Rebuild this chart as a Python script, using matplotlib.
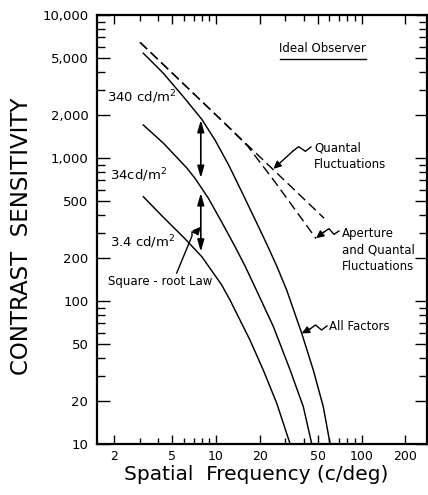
import matplotlib
matplotlib.use("Agg")
import matplotlib.pyplot as plt
from matplotlib.lines import Line2D
from matplotlib.transforms import IdentityTransform
from matplotlib.ticker import FixedLocator, FixedFormatter, NullFormatter

# contrast sensitivity vs spatial frequency (c/deg)
freq_340 = [3.16, 4.34, 5.96, 7.98, 9.84, 12.2, 15.0, 18.5, 22.3, 26.1, 30.6, 38.8, 46.6, 54.6, 60.8]
sens_340 = [5400, 3910, 2680, 1862, 1333, 894, 581, 373, 250, 176, 119, 59.4, 32.9, 18.2, 10]

freq_34 = [3.16, 4.34, 6.29, 7.17, 8.85, 10.9, 13.5, 15.8, 18.0, 24.8, 32.3, 39.8, 45.5]
sens_34 = [1700, 1270, 851, 720, 523, 358, 240, 176, 133, 66, 32.9, 18.2, 10]

freq_3_4 = [3.16, 4.23, 6.12, 7.98, 10.9, 12.5, 17.1, 21.1, 26.1, 32.3]
sens_3_4 = [536, 395, 272, 204, 130, 101, 53.3, 32.9, 19.3, 10]

# ideal observer (dashed)
freq_quantal = [3.0, 55.3]
sens_quantal = [6440, 379]
freq_aperture = [3.0, 12.0, 16.6, 25.4, 40.9, 48.7]
sens_aperture = [6440, 1670, 1200, 680, 349, 273]

# square-root law double arrows
arrow_freq = 7.85
arrow_top = [1845, 569]
arrow_bottom = [724, 221]

xticks = [2, 5, 10, 20, 50, 100, 200]
xminor = [3, 4, 6, 7, 8, 9, 30, 40, 60, 70, 80, 90]
yticks = [10, 20, 50, 100, 200, 500, 1000, 2000, 5000, 10000]
ylabels = ["10", "20", "50", "100", "200", "500", "1,000", "2,000", "5,000", "10,000"]
yminor = [30, 40, 60, 70, 80, 90, 300, 400, 600, 700, 800, 900,
          3000, 4000, 6000, 7000, 8000, 9000]

W, H = 428, 495
AX_L, AX_R, AX_T, AX_B = 96.7, 427.0, 15.0, 444.0

fig = plt.figure(figsize=(W / 100, H / 100), dpi=100)
ax = fig.add_axes([AX_L / W, 1 - AX_B / H, (AX_R - AX_L) / W, (AX_B - AX_T) / H])
ax.set_xscale("log")
ax.set_yscale("log")
ax.set_xlim(1.51, 282)
ax.set_ylim(10, 10000)

for f, s in [(freq_340, sens_340), (freq_34, sens_34), (freq_3_4, sens_3_4)]:
    ax.plot(f, s, color="black", lw=1.05, solid_joinstyle="round")
ax.plot(freq_quantal, sens_quantal, color="black", lw=1.0, dashes=(7, 3.5))
ax.plot(freq_aperture, sens_aperture, color="black", lw=1.0, dashes=(7, 3.5))

for top, bot in zip(arrow_top, arrow_bottom):
    ax.annotate("", xy=(arrow_freq, bot), xytext=(arrow_freq, top),
                arrowprops=dict(arrowstyle="<|-|>,head_length=0.7,head_width=0.2",
                                color="black", lw=1.2, shrinkA=0, shrinkB=0,
                                mutation_scale=10))

# ticks
ax.xaxis.set_major_locator(FixedLocator(xticks))
ax.xaxis.set_major_formatter(FixedFormatter([str(v) for v in xticks]))
ax.xaxis.set_minor_locator(FixedLocator(xminor))
ax.xaxis.set_minor_formatter(NullFormatter())
ax.yaxis.set_major_locator(FixedLocator(yticks))
ax.yaxis.set_major_formatter(FixedFormatter(ylabels))
ax.yaxis.set_minor_locator(FixedLocator(yminor))
ax.yaxis.set_minor_formatter(NullFormatter())

ax.tick_params(which="both", direction="in", top=True, right=True, width=1.0, colors="black")
ax.tick_params(axis="x", which="major", length=6.5, labelsize=9, pad=4)
ax.tick_params(axis="x", which="minor", length=4.5)
ax.tick_params(axis="y", which="major", length=9, labelsize=9.5, pad=6)
ax.tick_params(axis="y", which="minor", length=5.5)
for sp in ax.spines.values():
    sp.set_linewidth(1.6)


def axpos(x, y):
    # image pixel -> axes fraction
    return (x - AX_L) / (AX_R - AX_L), (AX_B - y) / (AX_B - AX_T)


def label(x, y, s, size=8.5, **kw):
    ax.text(*axpos(x, y), s, transform=ax.transAxes, fontsize=size,
            ha="left", va="baseline", **kw)


def leader(steps, target):
    # steps: start pixel then ("line"|"zig", pixel) ; ends with arrow to data target
    pts = [(steps[0][0], H - steps[0][1])]
    for kind, (x, y) in steps[1:]:
        q = (x, H - y)
        if kind == "zig":
            p = pts[-1]
            dx, dy = q[0] - p[0], q[1] - p[1]
            ln = (dx * dx + dy * dy) ** 0.5
            nx, ny = -dy / ln * 3.0, dx / ln * 3.0
            pts.append((p[0] + 0.35 * dx + nx, p[1] + 0.35 * dy + ny))
            pts.append((p[0] + 0.65 * dx - nx, p[1] + 0.65 * dy - ny))
        pts.append(q)
    fig.add_artist(Line2D([p[0] for p in pts], [p[1] for p in pts],
                          transform=IdentityTransform(), color="black", lw=1.0))
    ax.annotate("", xy=target, xycoords="data", xytext=pts[-1], textcoords="figure pixels",
                arrowprops=dict(arrowstyle="-|>,head_length=0.45,head_width=0.22",
                                color="black", lw=1.0, shrinkA=0, shrinkB=0,
                                mutation_scale=10))


label(106.7, 101.7, "340 cd/m$^2$", size=9.5)
label(110, 180, "34cd/m$^2$", size=9.5)
label(110, 246.7, "3.4 cd/m$^2$", size=9.5)
label(108.5, 285, "Square - root Law")
label(279, 51.7, "Ideal Observer")
fig.add_artist(Line2D([280, 366], [H - 59, H - 59], transform=IdentityTransform(),
                      color="black", lw=1.0))
label(314, 151.7, "Quantal")
label(314, 168.3, "Fluctuations")
label(342, 237, "Aperture")
label(342, 253.5, "and Quantal")
label(342, 270, "Fluctuations")
label(329, 330, "All Factors")

leader([(311, 147), ("zig", (293, 151))], (24.8, 840))
leader([(339, 231), ("zig", (324, 232))], (48.7, 275))
leader([(327, 326), ("zig", (310, 329))], (38.8, 59.4))
leader([(176.7, 273), ("line", (192, 236)), ("zig", (198, 230))], (7.85, 330))

fig.text(22 / W, 1 - 236 / H, "CONTRAST  SENSITIVITY", rotation=90, fontsize=16.5,
         ha="center", va="center")
fig.text(256 / W, 1 - 480 / H, "Spatial  Frequency (c/deg)", fontsize=14.5,
         ha="center", va="baseline")

fig.savefig("out.png", dpi=100)
